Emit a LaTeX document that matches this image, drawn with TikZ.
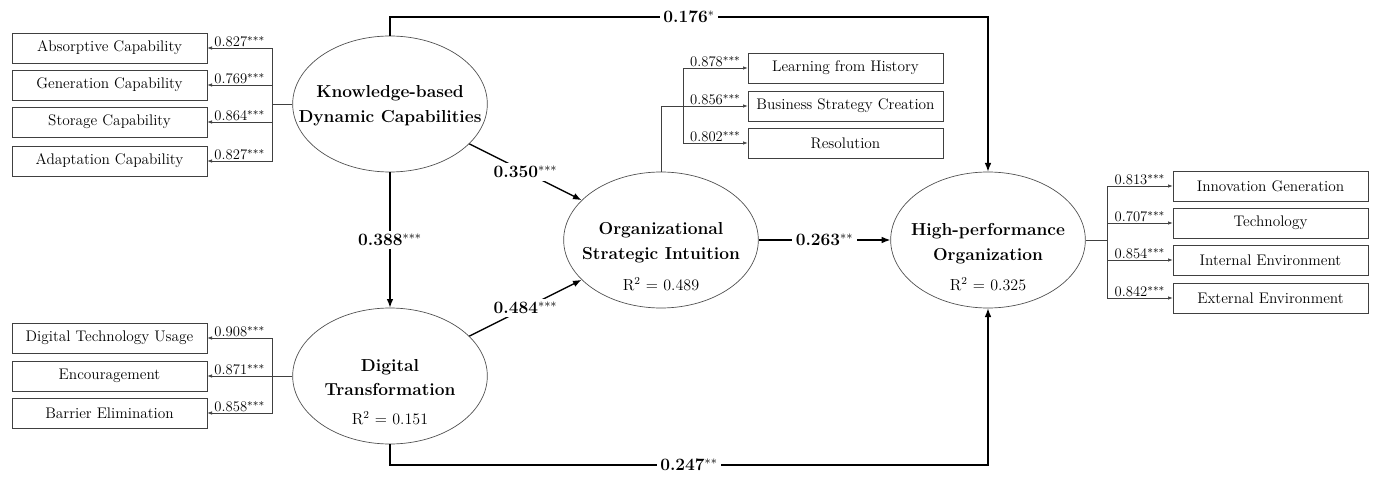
\documentclass[tikz,border=0pt]{standalone}
\usetikzlibrary{arrows.meta,shapes.geometric,calc}
\begin{document}
\begin{tikzpicture}[x=0.75pt,y=-0.75pt,
 ind/.style={draw=black!75, line width=0.5pt, minimum width=146.25pt, minimum height=22.5pt, inner sep=0pt, font=\fontsize{11.5}{13}\selectfont},
 lat/.style={ellipse, draw=black!70, line width=0.5pt, minimum width=146pt, minimum height=102pt, inner sep=0pt},
 ttl/.style={align=center, inner sep=0pt, font=\fontsize{13}{18.5}\selectfont\bfseries},
 rsq/.style={inner sep=0pt, font=\fontsize{12}{14}\selectfont},
 load/.style={draw=black!75, line width=0.5pt, -{Latex[length=3.5pt,width=2.6pt]}},
 plain/.style={draw=black!75, line width=0.5pt},
 lbl/.style={font=\fontsize{11}{13}\selectfont, inner sep=0.6pt, above},
 pth/.style={draw=black, line width=1pt, -{Latex[length=6.5pt,width=5pt]}},
 plbl/.style={font=\fontsize{13}{15}\selectfont\bfseries, fill=white, inner sep=2.5pt},
]
\useasboundingbox[fill=white] (0,0) rectangle (1373,477);

% latent variables
\node[lat] (KDC) at (390,104) {};
\node[lat] (DT)  at (390,376) {};
\node[lat] (OSI) at (661,240) {};
\node[lat] (HPO) at (988,240) {};

\node[ttl] (KDCt) at (390,105.5) {Knowledge-based\\Dynamic Capabilities};
\node[ttl] (DTt)  at (390,377.5) {Digital\\Transformation};
\node[rsq] (DTr)  at (390,418) {R$^2$ = 0.151};
\node[ttl] (OSIt) at (661,242.5) {Organizational\\Strategic Intuition};
\node[rsq] (OSIr) at (661,284) {R$^2$ = 0.489};
\node[ttl] (HPOt) at (988,243.5) {High-performance\\Organization};
\node[rsq] (HPOr) at (988,284) {R$^2$ = 0.325};

% indicators KDC
\node[ind] (A1) at (109.5,48)  {Absorptive Capability};
\node[ind] (A2) at (109.5,85)  {Generation Capability};
\node[ind] (A3) at (109.5,122) {Storage Capability};
\node[ind] (A4) at (109.5,161) {Adaptation Capability};
% indicators DT
\node[ind] (D1) at (109.5,338) {Digital Technology Usage};
\node[ind] (D2) at (109.5,376) {Encouragement};
\node[ind] (D3) at (109.5,413) {Barrier Elimination};
% indicators OSI
\node[ind] (O1) at (845.5,68)    {Learning from History};
\node[ind] (O2) at (845.5,106)   {Business Strategy Creation};
\node[ind] (O3) at (845.5,143)   {Resolution};
% indicators HPO
\node[ind] (H1) at (1270.5,186) {Innovation Generation};
\node[ind] (H2) at (1270.5,223) {Technology};
\node[ind] (H3) at (1270.5,260) {Internal Environment};
\node[ind] (H4) at (1270.5,298) {External Environment};

% buses
\coordinate (kbus) at (272,104);
\coordinate (dbus) at (272,376);
\coordinate (obus) at (683,106);
\coordinate (hbus) at (1107,240);

\draw[plain] (KDC.west) -- (kbus);
\draw[load] (kbus) |- node[lbl,pos=0.75]{0.827$^{***}$} (A1.east);
\draw[load] (kbus) |- node[lbl,pos=0.75]{0.769$^{***}$} (A2.east);
\draw[load] (kbus) |- node[lbl,pos=0.75]{0.864$^{***}$} (A3.east);
\draw[load] (kbus) |- node[lbl,pos=0.75]{0.827$^{***}$} (A4.east);

\draw[plain] (DT.west) -- (dbus);
\draw[load] (dbus) |- node[lbl,pos=0.75]{0.908$^{***}$} (D1.east);
\draw[load] (dbus) |- node[lbl,pos=0.75]{0.871$^{***}$} (D2.east);
\draw[load] (dbus) |- node[lbl,pos=0.75]{0.858$^{***}$} (D3.east);

\draw[plain] (OSI.north) |- (obus);
\draw[load] (obus) |- node[lbl,pos=0.75]{0.878$^{***}$} (O1.west);
\draw[load] (obus) |- node[lbl,pos=0.75]{0.856$^{***}$} (O2.west);
\draw[load] (obus) |- node[lbl,pos=0.75]{0.802$^{***}$} (O3.west);

\draw[plain] (HPO.east) -- (hbus);
\draw[load] (hbus) |- node[lbl,pos=0.75]{0.813$^{***}$} (H1.west);
\draw[load] (hbus) |- node[lbl,pos=0.75]{0.707$^{***}$} (H2.west);
\draw[load] (hbus) |- node[lbl,pos=0.75]{0.854$^{***}$} (H3.west);
\draw[load] (hbus) |- node[lbl,pos=0.75]{0.842$^{***}$} (H4.west);

% structural paths
\coordinate (top) at (689,17);
\coordinate (bot) at (689,465);
\draw[pth] (KDC.north) |- (top) -| (HPO.north);
\node[plbl] (p176) at (top) {0.176$^{*}$};
\draw[pth] (DT.south) |- (bot) -| (HPO.south);
\node[plbl] (p247) at (bot) {0.247$^{**}$};
\draw[pth] (KDC) -- node[plbl]{0.350$^{***}$} (OSI);
\draw[pth] (DT) -- node[plbl]{0.484$^{***}$} (OSI);
\draw[pth] (KDC) -- node[plbl]{0.388$^{***}$} (DT);
\draw[pth] (OSI) -- node[plbl]{0.263$^{**}$} (HPO);
\end{tikzpicture}
\end{document}
